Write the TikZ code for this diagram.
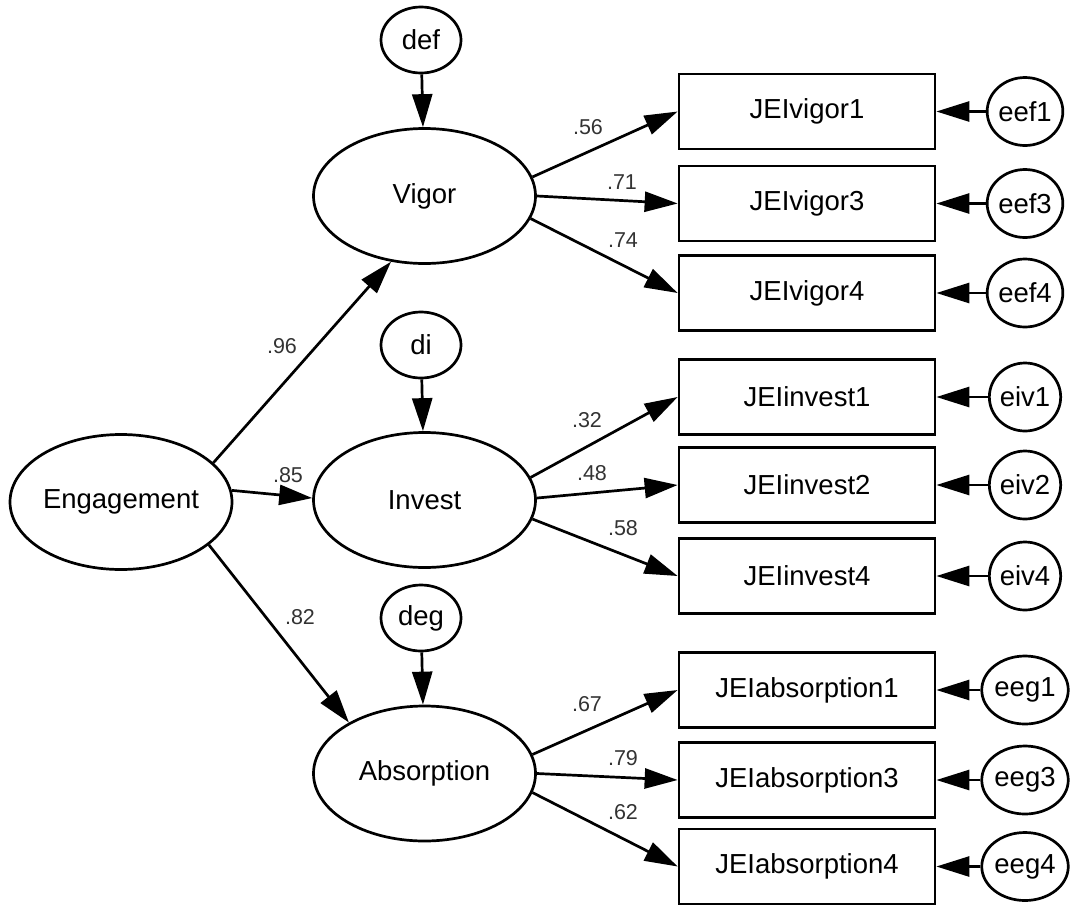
\documentclass[tikz,border=0pt]{standalone}
\usepackage{fontspec}
\setmainfont{Liberation Sans}
\usetikzlibrary{shapes.geometric,arrows.meta}

\begin{document}
\begin{tikzpicture}[x=1pt,y=-1pt,
  line width=2.7pt,
  nodefont/.style={font=\fontsize{27.5}{32}\selectfont},
  latent/.style={ellipse,draw,inner sep=0pt,minimum width=222pt,minimum height=135pt,nodefont},
  resid/.style={ellipse,draw,inner sep=0pt,minimum width=80pt,minimum height=66pt,nodefont},
  errc/.style={ellipse,draw,inner sep=0pt,minimum width=66pt,minimum height=68pt,nodefont},
  obs/.style={rectangle,draw,inner sep=0pt,minimum width=256pt,minimum height=75pt,nodefont},
  path/.style={-{Triangle[length=33pt,width=20pt]}},
  coef/.style={font=\fontsize{21.5}{26}\selectfont,text=black!80,inner sep=0pt}
]
\useasboundingbox (0,0) rectangle (1070,905);

% latent factors
\node[latent] (Eng) at (121,502) {Engagement};
\node[latent] (Vig) at (424.5,196) {Vigor};
\node[latent] (Inv) at (424.5,500) {Invest};
\node[latent] (Abs) at (424.5,773.5) {Absorption};

% disturbances
\node[resid] (def) at (421,40) {def};
\node[resid] (di)  at (421,345) {di};
\node[resid] (deg) at (421,618) {deg};

% indicators
\node[obs] (v1) at (807,111.5) {JEIvigor1};
\node[obs] (v3) at (807,203.5) {JEIvigor3};
\node[obs] (v4) at (807,293) {JEIvigor4};
\node[obs] (i1) at (807,397) {JEIinvest1};
\node[obs] (i2) at (807,485) {JEIinvest2};
\node[obs] (i4) at (807,576) {JEIinvest4};
\node[obs] (a1) at (807,690) {JEIabsorption1};
\node[obs] (a3) at (807,780) {JEIabsorption3};
\node[obs] (a4) at (807,866.5) {JEIabsorption4};

% measurement errors
\node[errc] (eef1) at (1025,111.5) {eef1};
\node[errc] (eef3) at (1025,203.5) {eef3};
\node[errc] (eef4) at (1025,293) {eef4};
\node[errc] (eiv1) at (1025,397) {eiv1};
\node[errc] (eiv2) at (1025,485) {eiv2};
\node[errc] (eiv4) at (1025,576) {eiv4};
\node[errc] (eeg1) at (1025,690) {eeg1};
\node[errc] (eeg3) at (1025,780) {eeg3};
\node[errc] (eeg4) at (1025,866.5) {eeg4};

% second-order paths
\draw[path] (Eng.23) -- (Vig.243);
\draw[path] (Eng.6) -- (Inv.179);
\draw[path] (Eng.-26) -- (Abs.146);

% disturbance paths
\draw[path] (def) -- (Vig);
\draw[path] (di) -- (Inv);
\draw[path] (deg) -- (Abs);

% loadings
\draw[path] (Vig.10) -- (v1.west);
\draw[path] (Vig.0) -- (v3.west);
\draw[path] (Vig.-12) -- (v4.west);
\draw[path] (Inv.12) -- (i1.west);
\draw[path] (Inv.1) -- (i2.west);
\draw[path] (Inv.-10) -- (i4.west);
\draw[path] (Abs.10) -- (a1.west);
\draw[path] (Abs.0) -- (a3.west);
\draw[path] (Abs.-10) -- (a4.west);

% error paths
\foreach \e/\b in {eef1/v1,eef3/v3,eef4/v4,eiv1/i1,eiv2/i2,eiv4/i4,eeg1/a1,eeg3/a3,eeg4/a4}
  \draw[path] (\e) -- (\b);

% coefficients
\node[coef] (c96) at (282,346) {.96};
\node[coef] (c85) at (288,475) {.85};
\node[coef] (c82) at (300,617) {.82};
\node[coef] (c56) at (588,127) {.56};
\node[coef] (c71) at (622,182) {.71};
\node[coef] (c74) at (623,240) {.74};
\node[coef] (c32) at (587,420) {.32};
\node[coef] (c48) at (592,473) {.48};
\node[coef] (c58) at (623,528) {.58};
\node[coef] (c67) at (587,704) {.67};
\node[coef] (c79) at (623,758) {.79};
\node[coef] (c62) at (623,812) {.62};
\end{tikzpicture}
\end{document}
